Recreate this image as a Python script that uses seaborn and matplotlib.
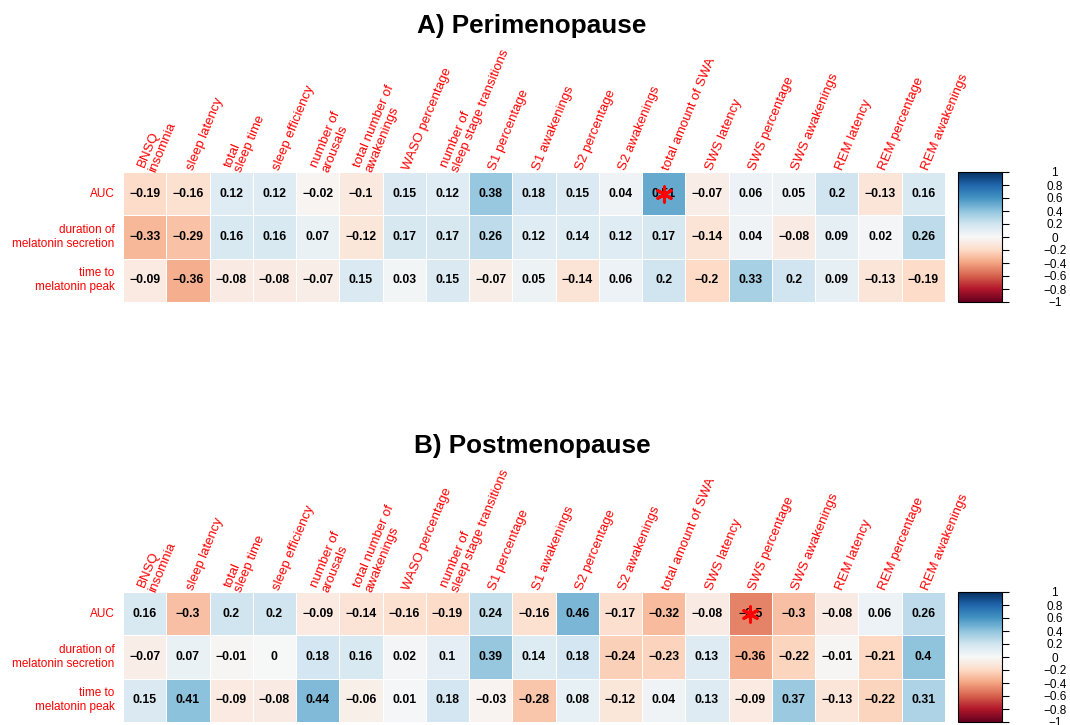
import numpy as np
import pandas as pd
import matplotlib
matplotlib.use('Agg')
import matplotlib.pyplot as plt
import seaborn as sns

# Row / column labels
rows = ['AUC', 'duration of\nmelatonin secretion', 'time to\nmelatonin peak']
cols = ['BNSQ\ninsomnia', 'sleep latency', 'total\nsleep time', 'sleep efficiency',
        'number of\narousals', 'total number of\nawakenings', 'WASO percentage',
        'number of\nsleep stage transitions', 'S1 percentage', 'S1 awakenings',
        'S2 percentage', 'S2 awakenings', 'total amount of SWA', 'SWS latency',
        'SWS percentage', 'SWS awakenings', 'REM latency', 'REM percentage',
        'REM awakenings']

# A) Perimenopause correlations
peri_auc = [-0.19, -0.16, 0.12, 0.12, -0.02, -0.1, 0.15, 0.12, 0.38, 0.18,
            0.15, 0.04, 0.51, -0.07, 0.06, 0.05, 0.2, -0.13, 0.16]
peri_duration = [-0.33, -0.29, 0.16, 0.16, 0.07, -0.12, 0.17, 0.17, 0.26, 0.12,
                 0.14, 0.12, 0.17, -0.14, 0.04, -0.08, 0.09, 0.02, 0.26]
peri_peak = [-0.09, -0.36, -0.08, -0.08, -0.07, 0.15, 0.03, 0.15, -0.07, 0.05,
             -0.14, 0.06, 0.2, -0.2, 0.33, 0.2, 0.09, -0.13, -0.19]
peri_sig = [('AUC', 'total amount of SWA')]

# B) Postmenopause correlations
post_auc = [0.16, -0.3, 0.2, 0.2, -0.09, -0.14, -0.16, -0.19, 0.24, -0.16,
            0.46, -0.17, -0.32, -0.08, -0.5, -0.3, -0.08, 0.06, 0.26]
post_duration = [-0.07, 0.07, -0.01, 0, 0.18, 0.16, 0.02, 0.1, 0.39, 0.14,
                 0.18, -0.24, -0.23, 0.13, -0.36, -0.22, -0.01, -0.21, 0.4]
post_peak = [0.15, 0.41, -0.09, -0.08, 0.44, -0.06, 0.01, 0.18, -0.03, -0.28,
             0.08, -0.12, 0.04, 0.13, -0.09, 0.37, -0.13, -0.22, 0.31]
post_sig = [('AUC', 'SWS percentage')]

cbar_ticks = [1, 0.8, 0.6, 0.4, 0.2, 0, -0.2, -0.4, -0.6, -0.8, -1]

plt.rcParams['font.family'] = ['Liberation Sans', 'DejaVu Sans']


def fmt(v):
    return f"{v:g}".replace('-', '\u2212')


def draw_panel(fig, title, values, sig, top_px, title_px):
    W, H = 1070, 725
    df = pd.DataFrame(values, index=rows, columns=cols)
    ax = fig.add_axes([123 / W, 1 - (top_px + 130) / H, 822 / W, 130 / H])
    cax = fig.add_axes([958 / W, 1 - (top_px + 130) / H, 44 / W, 130 / H])
    annot = df.map(fmt).values
    sns.heatmap(df, ax=ax, cbar_ax=cax, cmap='RdBu', vmin=-1, vmax=1,
                annot=annot, fmt='', linewidths=0.6, linecolor='white',
                annot_kws={'fontsize': 8.8, 'fontweight': 'bold', 'color': 'black'})

    # row labels
    ax.set_yticklabels(rows, rotation=0, color='red', fontsize=8.5,
                       multialignment='right')
    ax.tick_params(axis='y', length=0, pad=6)
    ax.set_xticks([])
    ax.set_xlabel('')
    ax.set_ylabel('')

    # column labels, rotated
    for j, c in enumerate(cols):
        ax.text(j + 0.55, -0.06, c, rotation=67.5, rotation_mode='anchor',
                ha='left', va='center', color='red', fontsize=9.5,
                clip_on=False, linespacing=1.0)

    # significance marks
    for r, c in sig:
        ax.scatter(cols.index(c) + 0.5, rows.index(r) + 0.5, marker=(6, 2, 0),
                   s=120, c='red', linewidths=2.2, zorder=5)

    # colorbar
    cb = ax.collections[0].colorbar
    cb.outline.set_visible(True)
    cb.outline.set_linewidth(0.8)
    cb.outline.set_edgecolor('black')
    cb.set_ticks(cbar_ticks)
    cb.set_ticklabels([fmt(t) for t in cbar_ticks])
    cax.tick_params(axis='y', length=5, width=0.8, direction='out', pad=33,
                    labelsize=8.5)
    for lbl in cax.get_yticklabels():
        lbl.set_horizontalalignment('center')

    fig.text(532 / W, 1 - title_px / H, title, ha='center', va='center',
             fontsize=18.8, fontweight='bold')


fig = plt.figure(figsize=(10.7, 7.25), dpi=100)
draw_panel(fig, 'A) Perimenopause', [peri_auc, peri_duration, peri_peak],
           peri_sig, 172, 26)
draw_panel(fig, 'B) Postmenopause', [post_auc, post_duration, post_peak],
           post_sig, 592, 446)
fig.savefig('out.png', dpi=100)
